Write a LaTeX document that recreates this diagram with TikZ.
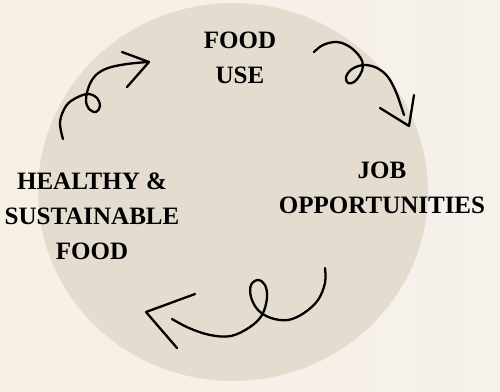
\documentclass[tikz,border=0pt]{standalone}
\usepackage{fontspec}
\setmainfont{Liberation Serif}
\definecolor{bgL}{HTML}{F8EFE4}
\definecolor{bgR}{HTML}{F5F1EB}
\definecolor{circ}{HTML}{E5DCD0}
\tikzset{
  lbl/.style={align=center, font=\fontsize{25}{35}\selectfont\bfseries, text=black, inner sep=0pt},
  squiggle/.style={draw=black, line width=2.3pt, line cap=round, line join=round},
}
\begin{document}
\begin{tikzpicture}[x=1pt,y=-1pt]
\useasboundingbox (0,0) rectangle (500,391);
\shade[left color=bgL, right color=bgR] (0,0) rectangle (500,391);
\fill[circ] (233,192) ellipse [x radius=195, y radius=189];

\node[lbl] (use) at (240,57.5) {FOOD\\USE};
\node[lbl] (healthy) at (92,216) {HEALTHY \&\\SUSTAINABLE\\FOOD};
\node[lbl] (job) at (382,187.5) {JOB\\OPPORTUNITIES};

% top-left arrow
\coordinate (a1t) at (149,62);
\draw[squiggle] plot[smooth, tension=0.6] coordinates {(63,139) (60,122) (66,106) (76,98) (88,94) (97,98) (100,106) (96,112) (89,109) (86,100) (89,86) (96,75) (108,68) (127,64) (148,62)};
\draw[squiggle] (122,52) -- (a1t) -- (127,87);

% top-right arrow
\coordinate (a2t) at (409,126);
\draw[squiggle] plot[smooth, tension=0.6] coordinates {(314,52) (323,45) (337,42) (350,47) (360,57) (363,66) (360,75) (354,82) (348,83) (346,77) (352,69) (364,65) (377,68) (388,77) (396,92) (401,106) (404,115)};
\draw[squiggle] (380,108) -- (a2t) -- (414,95);

% bottom arrow
\coordinate (a3t) at (146,312);
\draw[squiggle] plot[smooth, tension=0.6] coordinates {(325,268) (325,283) (318,300) (304,313) (288,320) (271,318) (258,310) (251,297) (251,285) (258,280) (265,285) (267,298) (262,315) (250,327) (231,336) (210,335) (189,328) (172,319)};
\draw[squiggle] (195,294) -- (a3t) -- (177,348);
\end{tikzpicture}
\end{document}
